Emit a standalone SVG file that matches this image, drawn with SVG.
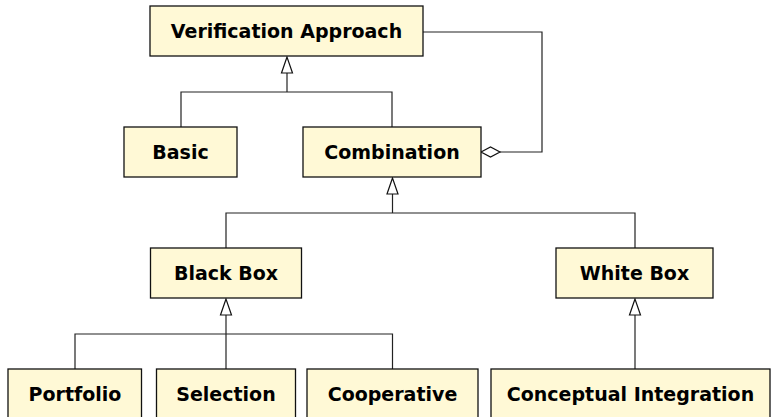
<svg xmlns="http://www.w3.org/2000/svg" width="776" height="417" viewBox="0 0 776 417">
<style>
.box{fill:#fff9d6;stroke:#111;stroke-width:1.3}
.lbl{font-family:"DejaVu Sans",sans-serif;font-weight:bold;font-size:19px;text-anchor:middle;fill:#000}
.ln{fill:none;stroke:#222;stroke-width:1.2}
.tri{fill:#fff;stroke:#111;stroke-width:1.2}
</style>
<rect width="776" height="417" fill="#fff"/>
<g id="connectors">
<polyline class="ln" points="181,127 181,92 392,92 392,127"/>
<line class="ln" x1="287" y1="92" x2="287" y2="73"/>
<polygon class="tri" points="287,57 281.5,73 292.5,73"/>
<polyline class="ln" points="423,32 542,32 542,152 500,152"/>
<polygon class="tri" points="481,152 490.5,147 500,152 490.5,157"/>
<polyline class="ln" points="226,248 226,213 635,213 635,248"/>
<line class="ln" x1="392.5" y1="213" x2="392.5" y2="194"/>
<polygon class="tri" points="392.5,178 387,194 398,194"/>
<polyline class="ln" points="75,369 75,334 392.5,334 392.5,369"/>
<line class="ln" x1="226" y1="369" x2="226" y2="315"/>
<polygon class="tri" points="226,299 220.5,315 231.5,315"/>
<line class="ln" x1="635" y1="369" x2="635" y2="315"/>
<polygon class="tri" points="635,299 629.5,315 640.5,315"/>
</g>
<g id="verification-approach"><rect class="box" x="150" y="6" width="273" height="50"/><text class="lbl" x="286.5" y="38">Verification Approach</text></g>
<g id="basic"><rect class="box" x="124" y="127" width="113" height="50"/><text class="lbl" x="180.5" y="159">Basic</text></g>
<g id="combination"><rect class="box" x="303" y="127" width="178" height="50"/><text class="lbl" x="392" y="159">Combination</text></g>
<g id="black-box"><rect class="box" x="150.5" y="248" width="151" height="50"/><text class="lbl" x="226" y="280">Black Box</text></g>
<g id="white-box"><rect class="box" x="556" y="248" width="157" height="50"/><text class="lbl" x="634.5" y="280">White Box</text></g>
<g id="portfolio"><rect class="box" x="8" y="369" width="133.5" height="50"/><text class="lbl" x="75" y="401">Portfolio</text></g>
<g id="selection"><rect class="box" x="156.5" y="369" width="139" height="50"/><text class="lbl" x="226" y="401">Selection</text></g>
<g id="cooperative"><rect class="box" x="307" y="369" width="171" height="50"/><text class="lbl" x="392.5" y="401">Cooperative</text></g>
<g id="conceptual-integration"><rect class="box" x="491" y="369" width="279" height="50"/><text class="lbl" x="630.5" y="401">Conceptual Integration</text></g>
</svg>
